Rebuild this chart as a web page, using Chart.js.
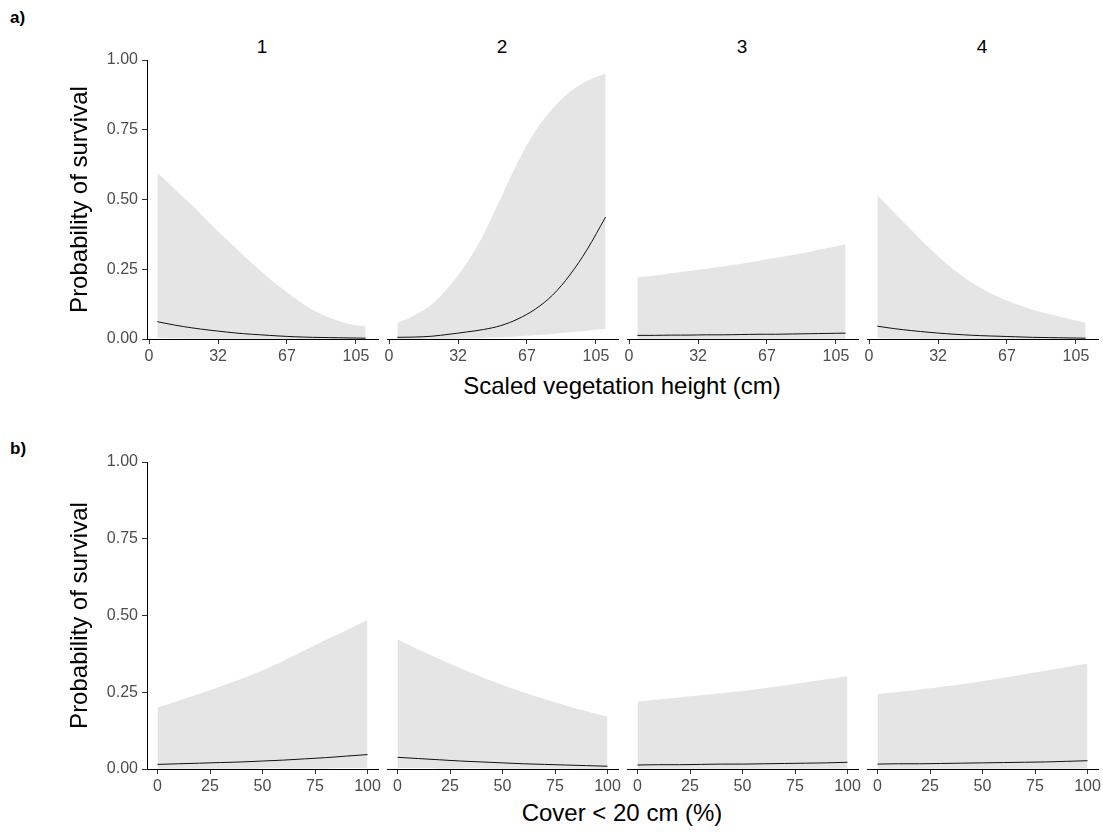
<!DOCTYPE html>
<html>
<head>
<meta charset="utf-8">
<script src="https://cdn.jsdelivr.net/npm/chart.js@4/dist/chart.umd.min.js"></script>
<style>
  html, body { margin: 0; padding: 0; background: #fff; }
  body { width: 1103px; height: 834px; position: relative; overflow: hidden;
         font-family: "Liberation Sans", Arial, Helvetica, sans-serif; }
  canvas { position: absolute; }
  .txt { position: absolute; white-space: nowrap; color: #000; }
  .tag { font-weight: bold; font-size: 17px; line-height: 17px; }
  .strip { font-size: 19px; line-height: 19px; text-align: center; width: 60px; }
  .xtitle { font-size: 24px; line-height: 24px; text-align: center; width: 600px; }
</style>
</head>
<body>
<div class="txt tag" style="left:10px; top:9px;">a)</div>
<div class="txt tag" style="left:10px; top:440px;">b)</div>
<div class="txt strip" style="left:232px; top:37px;">1</div>
<div class="txt strip" style="left:472px; top:37px;">2</div>
<div class="txt strip" style="left:712px; top:37px;">3</div>
<div class="txt strip" style="left:952px; top:37px;">4</div>
<div class="txt xtitle" style="left:322px; top:374px;">Scaled vegetation height (cm)</div>
<div class="txt xtitle" style="left:322px; top:801px;">Cover &lt; 20 cm (%)</div>

<script>
// ---------- DATA ----------
const panelNames = ['1', '2', '3', '4'];
const yTitle = 'Probability of survival';
const probTicks = [0, 0.25, 0.5, 0.75, 1];

// Row a): scaled vegetation height (tick positions with their labels)
const heightTickPos = [0, 1, 2, 3];
const heightTickLabels = ['0', '32', '67', '105'];
const heightX = [0.12, 0.37, 0.62, 0.87, 1.12, 1.37, 1.62, 1.87, 2.12, 2.37, 2.62, 2.87, 3.14];

const hUp1  = [0.596, 0.538, 0.480, 0.418, 0.358, 0.299, 0.244, 0.192, 0.146, 0.105, 0.076, 0.056, 0.045];
const hFit1 = [0.062, 0.050, 0.040, 0.032, 0.025, 0.019, 0.015, 0.011, 0.008, 0.006, 0.005, 0.004, 0.003];
const hLow1 = [0.004, 0.003, 0.002, 0.002, 0.001, 0.001, 0.001, 0.001, 0.000, 0.000, 0.000, 0.000, 0.000];

const hUp2  = [0.058, 0.085, 0.125, 0.188, 0.270, 0.375, 0.505, 0.635, 0.745, 0.825, 0.885, 0.925, 0.952];
const hFit2 = [0.006, 0.007, 0.010, 0.017, 0.025, 0.034, 0.048, 0.072, 0.107, 0.157, 0.229, 0.320, 0.437];
const hLow2 = [0.000, 0.000, 0.001, 0.001, 0.002, 0.004, 0.006, 0.009, 0.013, 0.018, 0.024, 0.030, 0.037];

const hUp3  = [0.221, 0.228, 0.236, 0.244, 0.252, 0.261, 0.270, 0.280, 0.290, 0.301, 0.313, 0.326, 0.340];
const hFit3 = [0.013, 0.013, 0.014, 0.014, 0.015, 0.015, 0.016, 0.017, 0.017, 0.018, 0.019, 0.020, 0.021];
const hLow3 = [0.001, 0.001, 0.001, 0.001, 0.001, 0.001, 0.001, 0.001, 0.001, 0.001, 0.001, 0.001, 0.001];

const hUp4  = [0.515, 0.452, 0.389, 0.327, 0.271, 0.222, 0.183, 0.151, 0.126, 0.105, 0.089, 0.074, 0.058];
const hFit4 = [0.046, 0.037, 0.030, 0.024, 0.019, 0.015, 0.012, 0.010, 0.008, 0.006, 0.005, 0.004, 0.003];
const hLow4 = [0.003, 0.002, 0.002, 0.001, 0.001, 0.001, 0.000, 0.000, 0.000, 0.000, 0.000, 0.000, 0.000];

// Row b): cover < 20 cm (%)
const coverTicks = [0, 25, 50, 75, 100];
const coverX = [0, 10, 20, 30, 40, 50, 60, 70, 80, 90, 100];

const cUp1  = [0.200, 0.222, 0.245, 0.269, 0.294, 0.322, 0.353, 0.386, 0.420, 0.452, 0.485];
const cFit1 = [0.015, 0.017, 0.019, 0.021, 0.023, 0.026, 0.029, 0.033, 0.037, 0.042, 0.047];
const cLow1 = [0.001, 0.001, 0.001, 0.001, 0.001, 0.002, 0.002, 0.002, 0.002, 0.003, 0.003];

const cUp2  = [0.423, 0.389, 0.358, 0.328, 0.300, 0.274, 0.250, 0.228, 0.207, 0.188, 0.170];
const cFit2 = [0.038, 0.034, 0.030, 0.026, 0.023, 0.020, 0.017, 0.015, 0.013, 0.011, 0.009];
const cLow2 = [0.003, 0.003, 0.002, 0.002, 0.002, 0.001, 0.001, 0.001, 0.001, 0.000, 0.000];

const cUp3  = [0.219, 0.226, 0.233, 0.240, 0.247, 0.254, 0.263, 0.272, 0.282, 0.292, 0.303];
const cFit3 = [0.013, 0.014, 0.014, 0.015, 0.016, 0.016, 0.017, 0.018, 0.019, 0.020, 0.022];
const cLow3 = [0.001, 0.001, 0.001, 0.001, 0.001, 0.001, 0.001, 0.001, 0.001, 0.001, 0.001];

const cUp4  = [0.244, 0.251, 0.259, 0.267, 0.276, 0.286, 0.297, 0.309, 0.320, 0.332, 0.344];
const cFit4 = [0.016, 0.017, 0.017, 0.018, 0.019, 0.020, 0.021, 0.022, 0.023, 0.025, 0.027];
const cLow4 = [0.001, 0.001, 0.001, 0.001, 0.001, 0.001, 0.001, 0.001, 0.001, 0.001, 0.001];

// ---------- DRAWING ----------
const FONT = '"Liberation Sans", Arial, Helvetica, sans-serif';
const RIBBON = '#e5e5e5';
const TICKCOL = '#4d4d4d';

function pts(xs, ys) { return xs.map((x, i) => ({ x: x, y: ys[i] })); }

function makePanel(o) {
  const c = document.createElement('canvas');
  c.width = o.w; c.height = o.h;
  c.style.left = o.left + 'px'; c.style.top = o.top + 'px';
  c.style.width = o.w + 'px'; c.style.height = o.h + 'px';
  document.body.appendChild(c);
  new Chart(c.getContext('2d'), {
    type: 'line',
    data: {
      datasets: [
        { data: pts(o.xs, o.fit), borderColor: '#111', borderWidth: 1, pointRadius: 0,
          fill: false, tension: 0.35 },
        { data: pts(o.xs, o.up), borderWidth: 0, borderColor: 'rgba(0,0,0,0)', pointRadius: 0,
          backgroundColor: RIBBON, fill: '+1', tension: 0.35 },
        { data: pts(o.xs, o.low), borderWidth: 0, borderColor: 'rgba(0,0,0,0)', pointRadius: 0,
          fill: false, tension: 0.35 }
      ]
    },
    options: {
      responsive: false, animation: false, devicePixelRatio: 1,
      events: [],
      layout: { padding: { left: o.padL, right: o.padR, top: o.padT, bottom: 0 } },
      plugins: { legend: { display: false }, tooltip: { enabled: false } },
      scales: {
        x: {
          type: 'linear', position: 'bottom', min: o.xMin, max: o.xMax,
          afterBuildTicks: s => { s.ticks = o.xTicks.map(v => ({ value: v })); },
          afterFit: s => { s.height = o.xAxisH; s.paddingLeft = 0; s.paddingRight = 0; },
          grid: { display: true, drawOnChartArea: false, drawTicks: true, tickLength: 5, color: '#333' },
          border: { display: true, color: '#000', width: 1 },
          ticks: { autoSkip: false, maxRotation: 0, padding: 3, color: TICKCOL,
                   font: { size: 16, family: FONT },
                   callback: (v) => { const i = o.xTicks.indexOf(v); return i >= 0 ? o.xLabels[i] : ''; } }
        },
        y: {
          display: o.showY, min: 0, max: 1,
          afterBuildTicks: s => { s.ticks = probTicks.map(v => ({ value: v })); },
          afterFit: s => { s.width = o.yW; s.paddingTop = 0; s.paddingBottom = 0; },
          grid: { display: true, drawOnChartArea: false, drawTicks: true, tickLength: 5, color: '#333' },
          border: { display: true, color: '#000', width: 1 },
          ticks: { padding: 4, color: TICKCOL, font: { size: 16, family: FONT },
                   callback: v => Number(v).toFixed(2) },
          title: { display: true, text: yTitle, color: '#000', font: { size: 24, family: FONT },
                   padding: { top: 4, bottom: 4 } }
        }
      }
    }
  });
}

const topRows = [
  { up: hUp1, fit: hFit1, low: hLow1 },
  { up: hUp2, fit: hFit2, low: hLow2 },
  { up: hUp3, fit: hFit3, low: hLow3 },
  { up: hUp4, fit: hFit4, low: hLow4 }
];
const botRows = [
  { up: cUp1, fit: cFit1, low: cLow1 },
  { up: cUp2, fit: cFit2, low: cLow2 },
  { up: cUp3, fit: cFit3, low: cLow3 },
  { up: cUp4, fit: cFit4, low: cLow4 }
];

function row(series, rowTop, rowH, padT, xs, xMin, xMax, xTicks, xLabels) {
  series.forEach((s, k) => {
    const axisLeft = 147 + 240 * k;
    const base = {
      up: s.up, fit: s.fit, low: s.low, xs: xs, xMin: xMin, xMax: xMax,
      xTicks: xTicks, xLabels: xLabels, top: rowTop, h: rowH, padT: padT, xAxisH: 41
    };
    if (k === 0) {
      makePanel(Object.assign(base, { left: 0, w: axisLeft + 231 + 12, padL: 62, padR: 12, showY: true, yW: axisLeft - 62 }));
    } else {
      makePanel(Object.assign(base, { left: axisLeft - 12, w: 231 + 24, padL: 12, padR: 12, showY: false, yW: 0 }));
    }
  });
}

row(topRows, 40, 340, 20, heightX, -0.03, 3.32, heightTickPos, heightTickLabels);
row(botRows, 440, 370, 22, coverX, -5, 105, coverTicks, coverTicks.map(String));
</script>
</body>
</html>
